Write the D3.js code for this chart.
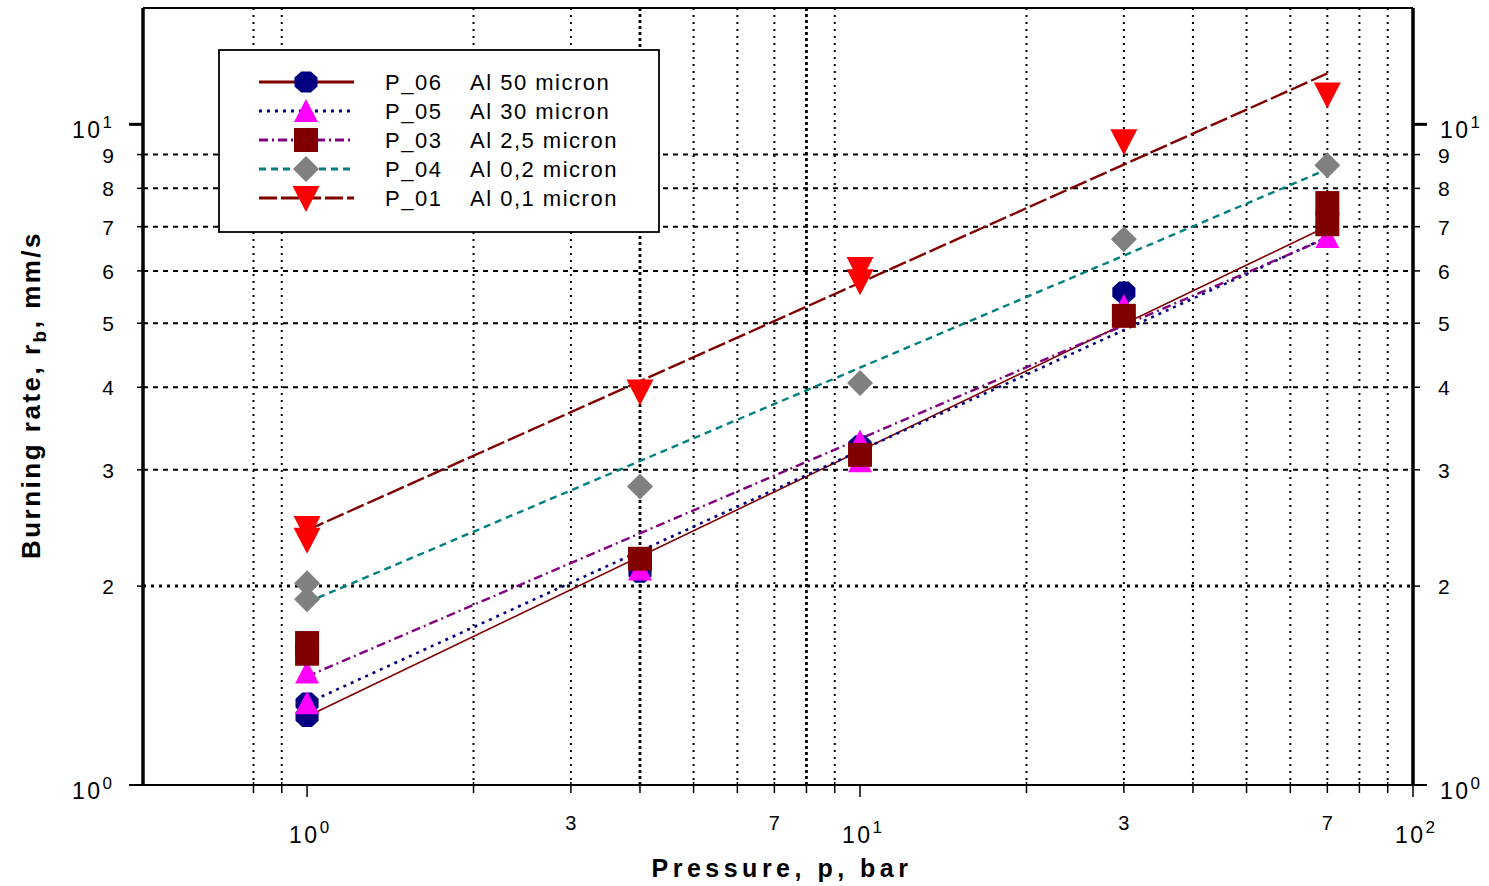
<!DOCTYPE html>
<html>
<head>
<meta charset="utf-8">
<script src="https://cdn.jsdelivr.net/npm/d3@7"></script>
<style>
  html, body { margin: 0; padding: 0; background: #fff; }
  svg { display: block; }
  text { font-family: "Liberation Sans", Arial, sans-serif; fill: #000; }
</style>
</head>
<body>
<svg id="chart" width="1489" height="886"></svg>
<script>
// ---------- data ----------
const seriesNames = ["P_06", "P_05", "P_03", "P_04", "P_01"];
const seriesLabels = ["Al 50 micron", "Al 30 micron", "Al 2,5 micron", "Al 0,2 micron", "Al 0,1 micron"];

// measured points: pressure (bar) and burning rate (mm/s)
const p06_p = [1, 1, 4, 10, 30, 70];
const p06_r = [1.33, 1.27, 2.10, 3.26, 5.57, 7.0];
const p05_p = [1, 1, 4, 10, 10, 30, 70, 70];
const p05_r = [1.48, 1.33, 2.12, 3.31, 3.09, 5.31, 6.75, 7.1];
const p03_p = [1, 1, 4, 10, 30, 70, 70];
const p03_r = [1.64, 1.58, 2.20, 3.16, 5.13, 7.60, 7.06];
const p04_p = [1, 1, 4, 10, 30, 70];
const p04_r = [2.02, 1.91, 2.83, 4.06, 6.70, 8.67];
const p01_p = [1, 1, 4, 10, 10, 30, 70];
const p01_r = [2.45, 2.35, 3.94, 6.04, 5.79, 9.43, 11.1];

// fitted trend lines: end points (pressure, rate)
const fitP = [1, 70];
const p06_fit = [1.27, 7.01];
const p05_fit = [1.33, 6.75];
const p03_fit = [1.46, 6.73];
const p04_fit = [1.89, 8.55];
const p01_fit = [2.43, 11.94];

// axis ticks
const xMinorTicks = [0.8, 0.9, 2, 3, 4, 5, 6, 7, 8, 9, 20, 30, 40, 50, 60, 70, 80, 90];
const xMajorTicks = [1, 10, 100];
const xMinorLabels = ["3", "7", "3", "7"];
const xMinorLabelPos = [3, 7, 30, 70];
const yMinorTicks = [2, 3, 4, 5, 6, 7, 8, 9];
const yMajorTicks = [1, 10];

// ---------- styles ----------
const styles = [
  { line: "#800000", dash: null, width: 1.6, marker: "circle", fill: "#000080" },
  { line: "#000080", dash: "3,5", width: 2.6, marker: "triUp", fill: "#FF00FF" },
  { line: "#800080", dash: "9,4,2,4", width: 2.4, marker: "square", fill: "#800000" },
  { line: "#008080", dash: "7,5", width: 2.4, marker: "diamond", fill: "#808080" },
  { line: "#800000", dash: "18,4", width: 2.4, marker: "triDown", fill: "#FF0000" }
];
const points = [
  [p06_p, p06_r], [p05_p, p05_r], [p03_p, p03_r], [p04_p, p04_r], [p01_p, p01_r]
];
const fits = [p06_fit, p05_fit, p03_fit, p04_fit, p01_fit];

// ---------- layout ----------
const svg = d3.select("#chart");
const L = 143, R = 1413, T = 8, B = 785;
const x = d3.scaleLog().domain([0.505, 100]).range([L, R]);
const y = d3.scaleLog().domain([1, 15]).range([B, T]);

function markerPath(type, cx, cy) {
  const p = d3.path();
  if (type === "circle") {
    const rx = 12.5, ry = 11.5;
    for (let i = 0; i < 8; i++) {
      const a = Math.PI / 8 + i * Math.PI / 4;
      const px = cx + rx * Math.cos(a), py = cy + ry * Math.sin(a);
      if (i === 0) p.moveTo(px, py); else p.lineTo(px, py);
    }
    p.closePath();
  } else if (type === "triUp") {
    p.moveTo(cx, cy - 12); p.lineTo(cx + 12, cy + 11); p.lineTo(cx - 12, cy + 11); p.closePath();
  } else if (type === "triDown") {
    p.moveTo(cx - 13.5, cy - 12); p.lineTo(cx + 13.5, cy - 12); p.lineTo(cx, cy + 14); p.closePath();
  } else if (type === "square") {
    p.rect(cx - 12, cy - 12, 24, 24);
  } else if (type === "diamond") {
    p.moveTo(cx, cy - 13); p.lineTo(cx + 13, cy); p.lineTo(cx, cy + 13); p.lineTo(cx - 13, cy); p.closePath();
  }
  return p.toString();
}

// ---------- grid ----------
const grid = svg.append("g");
xMinorTicks.forEach(v => {
  const bold = (v === 4 || v === 8);
  grid.append("line")
    .attr("x1", x(v)).attr("x2", x(v)).attr("y1", T).attr("y2", B)
    .attr("stroke", "#000")
    .attr("stroke-width", bold ? 2.8 : 2)
    .attr("stroke-dasharray", bold ? "3,3" : "2,5");
});
yMinorTicks.forEach(v => {
  const bold = (v === 2);
  grid.append("line")
    .attr("x1", L).attr("x2", R).attr("y1", y(v)).attr("y2", y(v))
    .attr("stroke", "#000")
    .attr("stroke-width", bold ? 3 : 2)
    .attr("stroke-dasharray", bold ? "3,5" : "5,5");
});

// ---------- axes frame ----------
const axes = svg.append("g");
axes.append("line").attr("x1", L).attr("x2", R).attr("y1", T).attr("y2", T)
  .attr("stroke", "#000").attr("stroke-width", 2);
axes.append("line").attr("x1", L - 14).attr("x2", R + 14).attr("y1", B).attr("y2", B)
  .attr("stroke", "#000").attr("stroke-width", 2);
[L, R].forEach(xx => {
  axes.append("line").attr("x1", xx).attr("x2", xx).attr("y1", T).attr("y2", B)
    .attr("stroke", "#000").attr("stroke-width", 3.5);
});
xMinorTicks.forEach(v => {
  axes.append("line").attr("x1", x(v)).attr("x2", x(v)).attr("y1", B - 3).attr("y2", B + 8)
    .attr("stroke", "#000").attr("stroke-width", 1.5);
});
xMajorTicks.forEach(v => {
  axes.append("line").attr("x1", x(v)).attr("x2", x(v)).attr("y1", B).attr("y2", B + 12)
    .attr("stroke", "#000").attr("stroke-width", 1.5);
});
yMinorTicks.forEach(v => {
  axes.append("line").attr("x1", L - 6).attr("x2", L).attr("y1", y(v)).attr("y2", y(v))
    .attr("stroke", "#000").attr("stroke-width", 1.5);
  axes.append("line").attr("x1", R).attr("x2", R + 7).attr("y1", y(v)).attr("y2", y(v))
    .attr("stroke", "#000").attr("stroke-width", 1.5);
});
yMajorTicks.forEach(v => {
  axes.append("line").attr("x1", L - 14).attr("x2", L).attr("y1", y(v)).attr("y2", y(v))
    .attr("stroke", "#000").attr("stroke-width", v === 1 ? 2 : 3);
  axes.append("line").attr("x1", R).attr("x2", R + 14).attr("y1", y(v)).attr("y2", y(v))
    .attr("stroke", "#000").attr("stroke-width", v === 1 ? 2 : 3);
});

// ---------- tick labels ----------
const lab = svg.append("g").style("font-size", "21px");
function powLabel(g, px, py, exp, anchor) {
  const t = g.append("text").attr("x", px).attr("y", py).attr("text-anchor", anchor)
    .style("letter-spacing", "2.5px").style("font-size", "23px");
  t.append("tspan").text("10");
  t.append("tspan").attr("dy", -10).style("font-size", "17px").style("letter-spacing", "0px").text(exp);
  return t;
}
yMinorTicks.forEach(v => {
  lab.append("text").attr("x", 114).attr("y", y(v) + 8).attr("text-anchor", "end").text(v);
  lab.append("text").attr("x", 1438).attr("y", y(v) + 8).attr("text-anchor", "start").text(v);
});
yMajorTicks.forEach(v => {
  const e = Math.round(Math.log10(v));
  const yy = v === 1 ? y(v) + 14 : y(v) + 14;
  powLabel(lab, 112, yy, e, "end");
  powLabel(lab, 1440, yy, e, "start");
});
xMinorLabelPos.forEach((v, i) => {
  lab.append("text").attr("x", x(v)).attr("y", 830).attr("text-anchor", "middle")
    .style("font-size", "20px").text(xMinorLabels[i]);
});
xMajorTicks.forEach(v => {
  const e = Math.round(Math.log10(v));
  powLabel(lab, x(v) + 2, 843, e, "middle");
});

// axis titles
svg.append("text").attr("x", 782).attr("y", 877).attr("text-anchor", "middle")
  .style("font-size", "25px").style("font-weight", "bold").style("letter-spacing", "4.5px")
  .text("Pressure, p, bar");
const yt = svg.append("text").attr("transform", "translate(40,395) rotate(-90)")
  .attr("text-anchor", "middle").style("font-size", "26px").style("font-weight", "bold")
  .style("letter-spacing", "2.5px");
yt.append("tspan").text("Burning rate, r");
yt.append("tspan").attr("dy", 6).style("font-size", "19px").text("b");
yt.append("tspan").attr("dy", -6).text(", mm/s");

// ---------- fit lines ----------
const lineGen = d3.line().x(d => x(d[0])).y(d => y(d[1]));
const linesG = svg.append("g");
fits.forEach((f, i) => {
  const s = styles[i];
  linesG.append("path")
    .datum(fitP.map((p, k) => [p, f[k]]))
    .attr("d", lineGen)
    .attr("fill", "none")
    .attr("stroke", s.line)
    .attr("stroke-width", s.width)
    .attr("stroke-dasharray", s.dash);
});

// ---------- markers ----------
const markG = svg.append("g");
points.forEach((pr, i) => {
  const s = styles[i];
  const data = pr[0].map((p, k) => [p, pr[1][k]]);
  markG.selectAll(null).data(data).enter().append("path")
    .attr("d", d => markerPath(s.marker, x(d[0]), y(d[1])))
    .attr("fill", s.fill);
});

// ---------- legend ----------
const lg = svg.append("g");
lg.append("rect").attr("x", 219).attr("y", 50).attr("width", 440).attr("height", 182)
  .attr("fill", "#fff").attr("stroke", "#000").attr("stroke-width", 1.8);
seriesNames.forEach((name, i) => {
  const s = styles[i];
  const cy = 82 + i * 29;
  lg.append("line").attr("x1", 259).attr("x2", 354).attr("y1", cy).attr("y2", cy)
    .attr("stroke", s.line).attr("stroke-width", 3).attr("stroke-dasharray", s.dash);
  lg.append("path").attr("d", markerPath(s.marker, 306, cy)).attr("fill", s.fill);
  lg.append("text").attr("x", 385).attr("y", cy + 8).style("font-size", "22px")
    .style("letter-spacing", "1.5px").text(name);
  lg.append("text").attr("x", 470).attr("y", cy + 8).style("font-size", "22px")
    .style("letter-spacing", "1.5px").text(seriesLabels[i]);
});
</script>
</body>
</html>
